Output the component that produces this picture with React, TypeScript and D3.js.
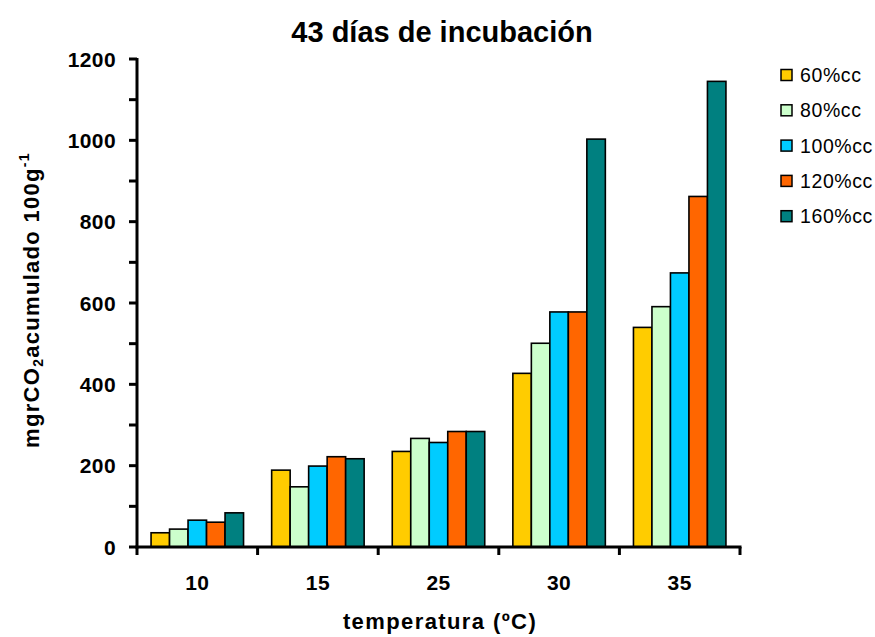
import React from "react";
import * as d3 from "d3";

const categories = ["10", "15", "25", "30", "35"];
const seriesNames = ["60%cc", "80%cc", "100%cc", "120%cc", "160%cc"];
const s60 = [35, 189, 235, 427, 540];
const s80 = [44, 148, 267, 501, 591];
const s100 = [66, 199, 257, 578, 674];
const s120 = [61, 222, 284, 578, 862];
const s160 = [84, 217, 284, 1003, 1145];
const seriesColors = ["#FFCC00", "#CCFFCC", "#00CCFF", "#FF6600", "#008080"];
const yTickValues = [0, 100, 200, 300, 400, 500, 600, 700, 800, 900, 1000, 1100, 1200];
const yLabelValues = [0, 200, 400, 600, 800, 1000, 1200];

const title = "43 días de incubación";
const xTitle = "temperatura (ºC)";

const FONT = "Arial, 'Liberation Sans', Helvetica, sans-serif";

export default function App() {
  const seriesValues = [s60, s80, s100, s120, s160];
  const left = 137;
  const right = 740;
  const top = 59;
  const bottom = 547;

  const y = d3.scaleLinear().domain([0, 1200]).range([bottom, top]);
  const x0 = d3.scaleBand<string>().domain(categories).range([left, right]).paddingInner(0).paddingOuter(0);
  const x1 = d3
    .scaleBand<string>()
    .domain(seriesNames)
    .range([0, x0.bandwidth()])
    .paddingInner(0)
    .paddingOuter(0.76);

  return (
    <svg
      width={875}
      height={637}
      style={{ position: "absolute", left: 0, top: 0, background: "#fff" }}
      fontFamily={FONT}
    >
      <rect x={0} y={0} width={875} height={637} fill="#fff" />
      <text x={442} y={42} textAnchor="middle" fontSize={29} fontWeight="bold" fill="#000">
        {title}
      </text>

      {/* bars */}
      {seriesNames.map((s, si) =>
        categories.map((c, ci) => {
          const v = seriesValues[si][ci];
          const bx = (x0(c) as number) + (x1(s) as number);
          return (
            <rect
              key={s + c}
              x={bx}
              y={y(v)}
              width={x1.bandwidth()}
              height={y(0) - y(v)}
              fill={seriesColors[si]}
              stroke="#000"
              strokeWidth={1.6}
            />
          );
        })
      )}

      {/* y axis */}
      <line x1={left} x2={left} y1={top - 1} y2={bottom + 1.5} stroke="#000" strokeWidth={3} />
      {yTickValues.map((t) => (
        <line key={"yt" + t} x1={left - 8} x2={left} y1={y(t)} y2={y(t)} stroke="#000" strokeWidth={3} />
      ))}
      {yLabelValues.map((t) => (
        <text
          key={"yl" + t}
          x={116}
          y={y(t)}
          dy="0.36em"
          textAnchor="end"
          fontSize={21}
          letterSpacing={0.4}
          fontWeight="bold"
          fill="#000"
        >
          {t}
        </text>
      ))}

      {/* x axis */}
      <line x1={left - 1.5} x2={right + 1.5} y1={bottom} y2={bottom} stroke="#000" strokeWidth={3} />
      {[...categories.map((c) => x0(c) as number), right].map((t, i) => (
        <line key={"xt" + i} x1={t} x2={t} y1={bottom} y2={bottom + 8} stroke="#000" strokeWidth={3} />
      ))}
      {categories.map((c) => (
        <text
          key={"xl" + c}
          x={(x0(c) as number) + x0.bandwidth() / 2}
          y={590}
          textAnchor="middle"
          fontSize={21}
          letterSpacing={0.4}
          fontWeight="bold"
          fill="#000"
        >
          {c}
        </text>
      ))}
      <text x={440} y={629} textAnchor="middle" fontSize={22} letterSpacing={1.4} fontWeight="bold" fill="#000">
        {xTitle}
      </text>

      {/* y title */}
      <text
        transform="translate(39,300) rotate(-90)"
        textAnchor="middle"
        fontSize={22}
        letterSpacing={1.3}
        fontWeight="bold"
        fill="#000"
      >
        mgrCO<tspan fontSize={14} dy={4}>2</tspan>
        <tspan dy={-4}>acumulado 100g</tspan>
        <tspan fontSize={14} dy={-10}>-1</tspan>
      </text>

      {/* legend */}
      {seriesNames.map((s, i) => {
        const cy = 75 + i * 35.3;
        return (
          <g key={"lg" + s}>
            <rect x={781} y={cy - 5.5} width={11} height={11} fill={seriesColors[i]} stroke="#000" strokeWidth={1.5} />
            <text x={800} y={cy} dy="0.36em" fontSize={19.5} letterSpacing={0.6} fill="#000">
              {s}
            </text>
          </g>
        );
      })}
    </svg>
  );
}
